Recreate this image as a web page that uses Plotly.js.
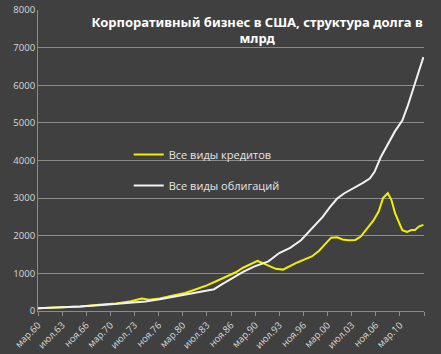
<!DOCTYPE html>
<html><head><meta charset="utf-8">
<script src="https://cdn.plot.ly/plotly-3.0.1.min.js"></script>
<style>html,body{margin:0;padding:0;background:#404040;}#chart{width:441px;height:354px;}</style>
</head><body><div id="chart"></div>
<script>
// Облигации (bonds), млрд
var bondDates = ["1960-03","1963-01","1966-01","1969-01","1971-01","1973-01","1975-01","1977-01","1979-01","1981-01","1983-01","1984-07","1985-07","1987-01","1988-07","1990-01","1991-01","1992-01","1993-07","1995-01","1996-07","1998-01","1999-07","2000-07","2001-07","2002-07","2003-07","2005-01","2006-01","2006-09","2007-07","2008-07","2009-07","2010-07","2011-04","2012-01","2012-10","2013-06"];
var bondValues = [75,92,118,160,190,215,255,310,380,455,520,580,700,870,1040,1180,1240,1320,1540,1680,1880,2180,2500,2760,2990,3130,3230,3400,3520,3700,4080,4420,4780,5060,5450,5900,6330,6750];
// Кредиты (loans), млрд
var loanDates = ["1960-03","1963-01","1966-01","1969-01","1971-01","1973-01","1974-07","1975-07","1977-01","1979-01","1980-07","1982-01","1983-07","1985-01","1986-01","1987-07","1988-07","1989-07","1990-07","1991-03","1992-01","1993-01","1994-01","1995-01","1996-01","1997-01","1998-01","1999-01","2000-01","2000-09","2001-07","2002-04","2003-01","2004-01","2004-10","2005-07","2006-07","2007-04","2007-11","2008-07","2009-01","2009-07","2010-01","2010-07","2011-03","2011-10","2012-04","2012-11","2013-06"];
var loanValues = [70,85,120,170,200,260,330,300,330,420,480,580,680,810,900,1030,1150,1250,1330,1280,1200,1120,1100,1200,1290,1370,1450,1600,1800,1950,1960,1900,1880,1890,1980,2150,2400,2650,3000,3130,2950,2600,2350,2150,2100,2150,2150,2250,2290];
var tickDates = ["1960-03-01","1963-07-01","1966-11-01","1970-03-01","1973-07-01","1976-11-01","1980-03-01","1983-07-01","1986-11-01","1990-03-01","1993-07-01","1996-11-01","2000-03-01","2003-07-01","2006-11-01","2010-03-01","2013-07-01"];
var tickLabels = ["мар.60","июл.63","ноя.66","мар.70","июл.73","ноя.76","мар.80","июл.83","ноя.86","мар.90","июл.93","ноя.96","мар.00","июл.03","ноя.06","мар.10",""];
var seriesNames = ["Все виды кредитов","Все виды облигаций"];
var titleText = "Корпоративный бизнес в США, структура долга в<br>млрд";

var traces = [
  {x: loanDates, y: loanValues, name: seriesNames[0], type: "scatter", mode: "lines",
   line: {color: "#f0f000", width: 2}, legend: "legend"},
  {x: bondDates, y: bondValues, name: seriesNames[1], type: "scatter", mode: "lines",
   line: {color: "#f2f2f2", width: 2}, legend: "legend2"}
];
var legFont = {family: "Open Sans, sans-serif", size: 11, color: "#e6e6e6"};
var layout = {
  width: 441, height: 354,
  paper_bgcolor: "#404040", plot_bgcolor: "#404040",
  margin: {l: 38, r: 17, t: 10, b: 43},
  showlegend: true,
  title: {text: titleText, x: 0.583, xanchor: "center", y: 0.925, yanchor: "middle",
          font: {family: "Noto Sans, sans-serif", size: 13, color: "#ffffff", weight: "bold"}},
  xaxis: {type: "date", range: ["1960-03-01","2013-07-01"], tickmode: "array",
          tickvals: tickDates, ticktext: tickLabels, tickangle: -45,
          showgrid: false, showline: true, linecolor: "#8c8c8c", linewidth: 1,
          ticks: "outside", ticklen: 4, tickcolor: "#8c8c8c", zeroline: false,
          tickfont: {family: "Open Sans, sans-serif", size: 9.5, color: "#d9d9d9"}},
  yaxis: {range: [0, 8000], dtick: 1000, showgrid: true, gridcolor: "#8c8c8c", gridwidth: 1,
          showline: true, linecolor: "#8c8c8c", zeroline: false, ticks: "",
          tickfont: {family: "Open Sans, sans-serif", size: 9.5, color: "#d9d9d9"}},
  legend: {x: 0.235, y: 0.52, xanchor: "left", yanchor: "middle", bgcolor: "rgba(0,0,0,0)",
           font: legFont},
  legend2: {x: 0.235, y: 0.417, xanchor: "left", yanchor: "middle", bgcolor: "rgba(0,0,0,0)",
            font: legFont}
};
Plotly.newPlot("chart", traces, layout, {displayModeBar: false, staticPlot: true});
</script></body></html>
